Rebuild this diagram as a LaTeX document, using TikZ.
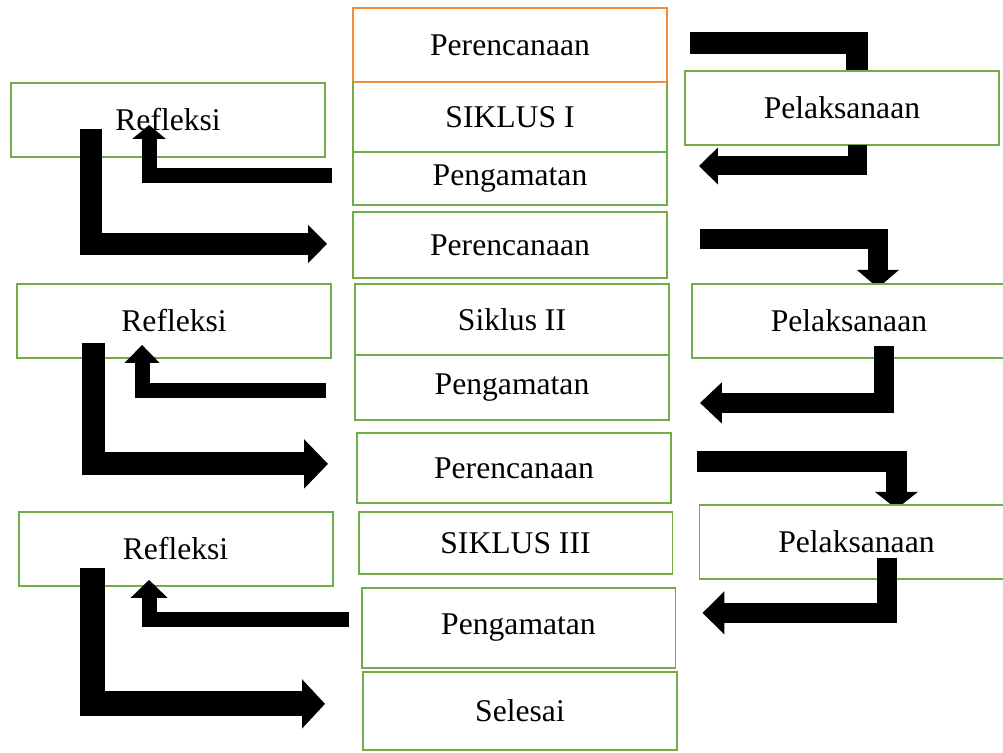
\documentclass[tikz,border=0pt]{standalone}
\usepackage{fontspec}
\setmainfont{Liberation Serif}
\usepackage{xcolor}
\usepackage{tikz}
\usetikzlibrary{arrows.meta,positioning,backgrounds,calc}

\definecolor{boxgreen}{RGB}{112,173,71}
\definecolor{boxorange}{RGB}{240,140,60}

\begin{document}
\begin{tikzpicture}[
  x=0.02cm, y=-0.02cm,
  box/.style={rectangle, draw=boxgreen, line width=1.1pt, fill=white,
    inner sep=0pt, outer sep=0pt, minimum width=6.28cm,
    text centered, font=\fontsize{18}{22}\selectfont},
  flow/.style n args={3}{line width=#1, line join=miter,
    -{Triangle[length=#2, width=#3]}}
]
\useasboundingbox (0,0) rectangle (1003,752);
\clip (0,0) rectangle (1003,752);

\node[box, draw=boxorange, minimum height=1.48cm] (per1) at (510,45) {Perencanaan};
\node[box, minimum height=1.40cm, below=0pt of per1] (sik1) {SIKLUS I};
\node[box, minimum height=1.06cm, below=0pt of sik1] (peng1) {Pengamatan};
\node[box, minimum height=1.32cm, below=0.14cm of peng1] (per2) {Perencanaan};
\node[box, minimum height=1.42cm, below=0.12cm of per2, xshift=0.04cm] (sik2) {Siklus II};
\node[box, minimum height=1.30cm, below=0pt of sik2] (peng2) {Pengamatan};
\node[box, minimum height=1.40cm, below=0.26cm of peng2, xshift=0.04cm] (per3) {Perencanaan};
\node[box, minimum height=1.24cm, below=0.18cm of per3, xshift=0.03cm] (sik3) {SIKLUS III};
\node[box, minimum height=1.60cm, below=0.28cm of sik3, xshift=0.06cm] (peng3) {Pengamatan};
\node[box, minimum height=1.56cm, below=0.08cm of peng3, xshift=0.03cm] (sel) {Selesai};
\draw[boxorange, line width=1.1pt] (per1.south west) -- (per1.south east);

\node[box, minimum height=1.48cm, left=0.56cm of sik1, yshift=-0.06cm] (ref1) {Refleksi};
\node[box, minimum height=1.48cm, left=0.48cm of sik2, yshift=-0.03cm] (ref2) {Refleksi};
\node[box, minimum height=1.48cm, left=0.52cm of sik3, yshift=-0.12cm] (ref3) {Refleksi};

\node[box, minimum height=1.48cm, right=0.36cm of sik1, yshift=0.18cm] (pel1) {Pelaksanaan};
\node[box, minimum height=1.48cm, right=0.46cm of sik2, yshift=-0.03cm] (pel2) {Pelaksanaan};
\node[box, minimum height=1.48cm, right=0.54cm of sik3, yshift=0.02cm] (pel3) {Pelaksanaan};

\begin{pgfonlayer}{background}
\draw[flow={0.44cm}{0.38cm}{0.72cm}] ([xshift=0.46cm,yshift=0.04cm]per1.east) -| ([xshift=0.31cm,yshift=-0.5cm]pel1.north);
\draw[flow={0.4cm}{0.36cm}{0.82cm}] ([xshift=0.66cm,yshift=0.12cm]per2.east) -| ([xshift=0.58cm,yshift=-0.08cm]pel2.north);
\draw[flow={0.42cm}{0.34cm}{0.84cm}] ([xshift=0.52cm,yshift=0.12cm]per3.east) -| ([xshift=0.8cm,yshift=-0.08cm]pel3.north);
\end{pgfonlayer}

\draw[flow={0.38cm}{0.38cm}{0.72cm}] ([xshift=0.31cm]pel1.south) |- ([xshift=0.64cm,yshift=0.25cm]peng1.east);
\draw[flow={0.3cm}{0.28cm}{0.66cm}] ([xshift=-0.42cm,yshift=0.05cm]peng1.west) -| ([xshift=-0.38cm,yshift=0.64cm]ref1.south);
\draw[flow={0.44cm}{0.38cm}{0.74cm}] ([xshift=-1.54cm,yshift=0.56cm]ref1.south) |- ([xshift=-0.52cm,yshift=0.02cm]per2.west);

\draw[flow={0.4cm}{0.44cm}{0.8cm}] ([xshift=0.7cm,yshift=0.24cm]pel2.south) |- ([xshift=0.62cm,yshift=-0.31cm]peng2.east);
\draw[flow={0.3cm}{0.36cm}{0.68cm}] ([xshift=-0.58cm,yshift=-0.07cm]peng2.west) -| ([xshift=-0.64cm,yshift=0.26cm]ref2.south);
\draw[flow={0.46cm}{0.48cm}{0.96cm}] ([xshift=-1.62cm,yshift=0.3cm]ref2.south) |- ([xshift=-0.58cm,yshift=0.08cm]per3.west);

\draw[flow={0.4cm}{0.44cm}{0.84cm}] ([xshift=0.62cm,yshift=0.42cm]pel3.south) |- ([xshift=0.54cm,yshift=0.3cm]peng3.east);
\draw[flow={0.3cm}{0.36cm}{0.72cm}] ([xshift=-0.26cm,yshift=0.16cm]peng3.west) -| ([xshift=-0.53cm,yshift=0.12cm]ref3.south);
\draw[flow={0.5cm}{0.46cm}{0.96cm}] ([xshift=-1.67cm,yshift=0.36cm]ref3.south) |- ([xshift=-0.76cm,yshift=0.14cm]sel.west);
\end{tikzpicture}
\end{document}
